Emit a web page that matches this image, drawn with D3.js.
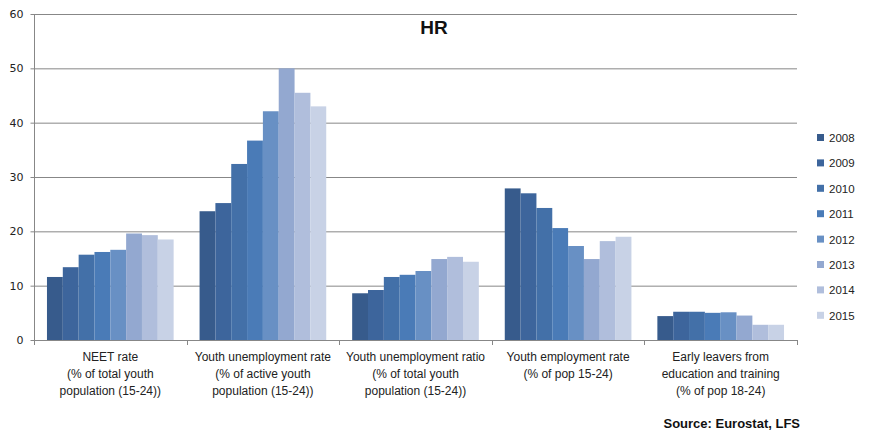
<!DOCTYPE html>
<html><head><meta charset="utf-8">
<script src="https://cdn.jsdelivr.net/npm/d3@7"></script>
<style>body{margin:0;background:#fff}svg{display:block}</style>
</head><body><svg id="c" width="870" height="445"></svg>
<script>
const categories = [
  ["NEET rate","(% of total youth","population (15-24))"],
  ["Youth unemployment rate","(% of active youth","population (15-24))"],
  ["Youth unemployment ratio","(% of total youth","population (15-24))"],
  ["Youth employment rate","(% of pop 15-24)"],
  ["Early leavers from","education and training","(% of pop 18-24)"]
];
const years = ["2008","2009","2010","2011","2012","2013","2014","2015"];
const neet      = [11.6,13.4,15.7,16.2,16.6,19.6,19.3,18.5];
const unempRate = [23.7,25.2,32.4,36.7,42.1,50.0,45.5,43.0];
const unempRatio= [8.6,9.2,11.6,12.0,12.7,14.9,15.3,14.4];
const empRate   = [27.9,27.0,24.3,20.6,17.3,14.9,18.2,19.0];
const leavers   = [4.4,5.2,5.2,5.0,5.1,4.5,2.8,2.8];
const yTicks = [0,10,20,30,40,50,60];
const colors = ["#375b8c","#3d659c","#4370a8","#4a7bb7","#6890c4","#93a8d0","#b0bedc","#c8d2e6"];

const series = [neet, unempRate, unempRatio, empRate, leavers];
const svg = d3.select("#c");
const L = 34, R = 797, T = 14, B = 340;

const x0 = d3.scaleBand().domain(d3.range(categories.length)).range([L, R]).padding(0);
const bw = x0.bandwidth();
const gap = bw * 0.085;
const x1 = d3.scaleBand().domain(years).range([gap, bw - gap]).padding(0);
const y = d3.scaleLinear().domain([0, 60]).range([B, T]);
const color = d3.scaleOrdinal().domain(years).range(colors);

// gridlines
svg.append("g").selectAll("line").data(yTicks.filter(d => d > 0)).join("line")
  .attr("x1", L).attr("x2", R).attr("y1", d => y(d) + 0.5).attr("y2", d => y(d) + 0.5)
  .attr("stroke", "#878787").attr("stroke-width", 1);

// bars
const g = svg.append("g").selectAll("g").data(series).join("g")
  .attr("transform", (d, i) => `translate(${x0(i)},0)`);
g.selectAll("rect").data(d => d.map((v, j) => ({v, yr: years[j]}))).join("rect")
  .attr("x", d => x1(d.yr)).attr("width", x1.bandwidth())
  .attr("y", d => y(d.v)).attr("height", d => B - y(d.v))
  .attr("fill", d => color(d.yr));

// y axis
const yAxis = d3.axisLeft(y).tickValues(yTicks).tickSize(4).tickPadding(7);
const ya = svg.append("g").attr("transform", `translate(${L + 0.5},0)`).call(yAxis);
ya.select(".domain").attr("stroke", "#878787").attr("d", `M0,${T}V${B + 0.5}`);
ya.selectAll(".tick line").attr("stroke", "#878787");
ya.selectAll(".tick text").attr("font-family", "DejaVu Sans").attr("font-size", 11).attr("fill", "#222");

// x axis
svg.append("line").attr("x1", L).attr("x2", R).attr("y1", B + 0.5).attr("y2", B + 0.5).attr("stroke", "#878787");
const bounds = d3.range(categories.length + 1).map(i => i < categories.length ? x0(i) : R);
svg.append("g").selectAll("line").data(bounds).join("line")
  .attr("x1", d => Math.round(d) + 0.5).attr("x2", d => Math.round(d) + 0.5)
  .attr("y1", B).attr("y2", B + 5).attr("stroke", "#878787");

// category labels
svg.append("g").selectAll("text").data(categories).join("text")
  .attr("x", (d, i) => x0(i) + bw / 2).attr("y", 361)
  .attr("text-anchor", "middle").attr("font-family", "Liberation Sans Narrow, Liberation Sans, sans-serif")
  .attr("font-size", 12).attr("fill", "#222")
  .selectAll("tspan").data(d => d).join("tspan")
  .attr("x", function() { return d3.select(this.parentNode).attr("x"); })
  .attr("dy", (d, k) => k === 0 ? 0 : 17).text(d => d);

// title
svg.append("text").attr("x", 434).attr("y", 34).attr("text-anchor", "middle")
  .attr("font-family", "Liberation Sans, Arial, sans-serif").attr("font-weight", "bold")
  .attr("font-size", 19).attr("fill", "#111").text("HR");

// legend
const lg = svg.append("g").selectAll("g").data(years).join("g")
  .attr("transform", (d, i) => `translate(817,${138 + i * 25.4})`);
lg.append("rect").attr("x", 0).attr("y", -4).attr("width", 7).attr("height", 7).attr("fill", d => color(d));
lg.append("text").attr("x", 12).attr("y", 4).attr("font-family", "Liberation Sans, Arial, sans-serif")
  .attr("font-size", 11.5).attr("fill", "#222").text(d => d);

// source
svg.append("text").attr("x", 800).attr("y", 428).attr("text-anchor", "end")
  .attr("font-family", "Liberation Sans Narrow, Liberation Sans, sans-serif").attr("font-weight", "bold")
  .attr("font-size", 13).attr("fill", "#111").text("Source: Eurostat, LFS");
</script></body></html>
